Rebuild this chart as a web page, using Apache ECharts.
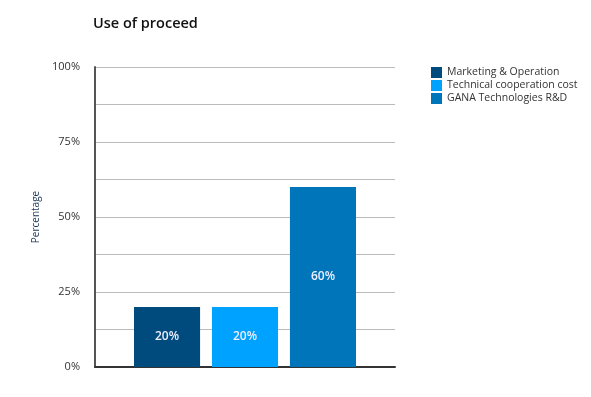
<!DOCTYPE html>
<html><head><meta charset="utf-8">
<script src="https://cdn.jsdelivr.net/npm/echarts@6/dist/echarts.min.js"></script>
<style>html,body{margin:0;padding:0;background:#fff}#c{width:591px;height:397px}</style>
</head><body><div id="c"></div>
<script>
const categories = [''];
const seriesNames = ['Marketing & Operation', 'Technical cooperation cost', 'GANA Technologies R&D'];
const seriesValues = [[20], [20], [60]];
const seriesColors = ['#004b7d', '#00a2ff', '#0075ba'];
const yTicks = [0, 25, 50, 75, 100];

const font = '"Open Sans", "Noto Sans", sans-serif';
const chart = echarts.init(document.getElementById('c'), null, {renderer: 'canvas'});
chart.setOption({
  animation: false,
  title: {text: 'Use of proceed', left: 88, top: 11,
    textStyle: {fontFamily: font, fontSize: 14.5, fontWeight: 600, color: '#111'}},
  legend: {orient: 'vertical', left: 426, top: 62, itemWidth: 11, itemHeight: 11, itemGap: 2,
    icon: 'rect', data: seriesNames,
    textStyle: {fontFamily: font, fontSize: 10.5, color: '#333', padding: [0, 0, 0, 0]}},
  grid: {left: 95, right: 196, top: 67, bottom: 30},
  xAxis: {type: 'category', data: categories,
    axisLine: {lineStyle: {color: '#333', width: 2}}, axisTick: {show: false}, axisLabel: {show: false}},
  yAxis: {type: 'value', min: 0, max: 100, interval: 12.5,
    name: 'Percentage', nameLocation: 'middle', nameGap: 51, nameRotate: 90,
    nameTextStyle: {fontFamily: font, fontSize: 10, color: '#1a3357'},
    axisLine: {show: true, lineStyle: {color: '#555', width: 2}}, axisTick: {show: false},
    axisLabel: {margin: 15, fontFamily: font, fontSize: 11, color: '#333',
      formatter: v => yTicks.includes(v) ? v + '%' : ''},
    splitLine: {lineStyle: {color: '#bbb', width: 1}}},
  series: seriesNames.map((n, i) => ({
    name: n, type: 'bar', data: seriesValues[i], barGap: '18%', barCategoryGap: '26%',
    itemStyle: {color: seriesColors[i]},
    label: {show: true, position: 'inside', formatter: '{c}%', color: '#eef',
      fontFamily: font, fontSize: 12, fontWeight: 600}
  }))
});
</script></body></html>
